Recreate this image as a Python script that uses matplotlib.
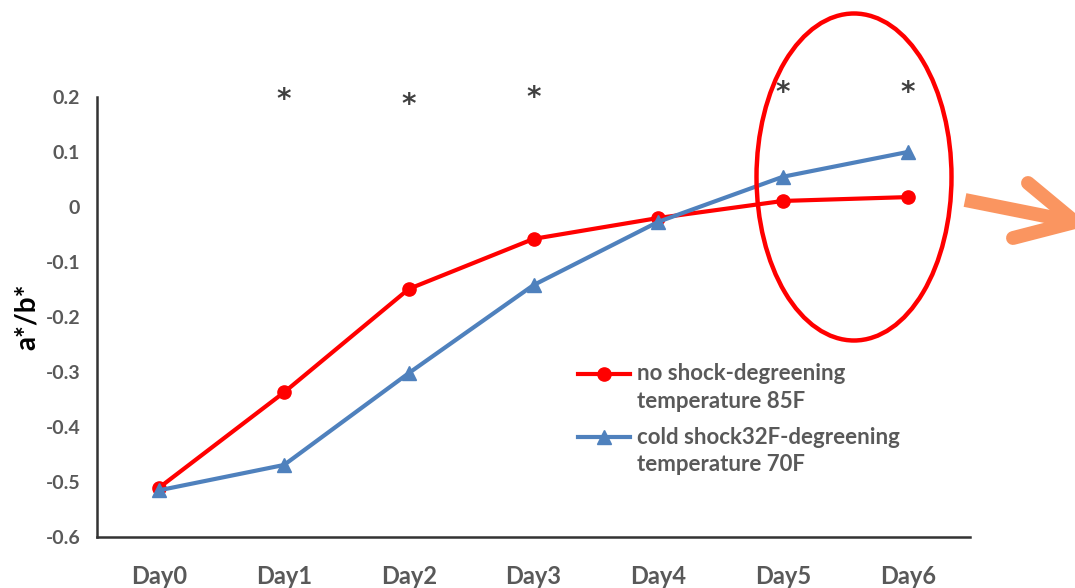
import numpy as np
import matplotlib
matplotlib.use('Agg')
import matplotlib.pyplot as plt
from matplotlib.patches import Ellipse
from matplotlib.lines import Line2D

plt.rcParams['font.family'] = ['Lato', 'DejaVu Sans']

days = ['Day0', 'Day1', 'Day2', 'Day3', 'Day4', 'Day5', 'Day6']
no_shock = [-0.51, -0.337, -0.149, -0.058, -0.02, 0.011, 0.018]
cold_shock = [-0.515, -0.469, -0.302, -0.142, -0.027, 0.055, 0.1]
star_days = [1, 2, 3, 5, 6]
star_y = [0.195, 0.186, 0.198, 0.207, 0.207]
yticks = [-0.6, -0.5, -0.4, -0.3, -0.2, -0.1, 0, 0.1, 0.2]
ytick_labels = ['-0.6', '-0.5', '-0.4', '-0.3', '-0.2', '-0.1', '0', '0.1', '0.2']
legend_labels = ['no shock-degreening\ntemperature 85F',
                 'cold shock32F-degreening\ntemperature 70F']

grey = '#595959'
red = '#FF0000'
blue = '#4F81BD'

fig = plt.figure(figsize=(10.75, 5.88), dpi=100)
ax = fig.add_axes([97 / 1075, 51 / 588, 873 / 1075, 440 / 588])

x = np.arange(len(days))
ax.plot(x, no_shock, color=red, lw=3, marker='o', ms=9.5)
ax.plot(x, cold_shock, color=blue, lw=3, marker='^', ms=9.5)

for d, yy in zip(star_days, star_y):
    ax.text(d, yy, '*', ha='center', va='center', fontsize=20, color='#404040',
            fontweight='bold', family='DejaVu Sans')

ax.set_xlim(-0.5, 6.5)
ax.set_ylim(-0.6, 0.2)
ax.set_xticks(x)
ax.set_xticklabels(days, fontsize=17, fontweight='bold', color=grey)
ax.set_yticks(yticks)
ax.set_yticklabels(ytick_labels, fontsize=14, fontweight='bold', color=grey)
ax.tick_params(length=0)
ax.tick_params(axis='x', pad=20)
ax.tick_params(axis='y', pad=12)
ax.set_ylabel('a*/b*', fontsize=20, fontweight='bold', color='black', labelpad=4)
for s in ['top', 'right']:
    ax.spines[s].set_visible(False)
for s in ['left', 'bottom']:
    ax.spines[s].set_linewidth(1.8)
    ax.spines[s].set_color('#333333')

# legend drawn by hand so the handle sits on the first text line
for (lbl, col, mk, hy) in zip(legend_labels, [red, blue], ['o', '^'], [0.371, 0.227]):
    ax.plot([0.551, 0.611], [hy, hy], transform=ax.transAxes, color=col, lw=3,
            clip_on=False)
    ax.plot([0.581], [hy], transform=ax.transAxes, color=col, marker=mk, ms=9.5,
            clip_on=False)
    ax.text(0.619, hy + 0.024, lbl, transform=ax.transAxes, ha='left', va='top',
            fontsize=16, fontweight='bold', color=grey, linespacing=1.4)

# red ellipse around Day5-Day6
fig.patches.append(Ellipse((854 / 1075, 1 - 177 / 588), 195 / 1075, 327 / 588,
                           transform=fig.transFigure, fill=False, ec=red, lw=3.2))

# orange arrow
orange = '#FA9560'
fig.lines.append(Line2D([965 / 1075, 1.0], [1 - 200 / 588, 1 - 222 / 588],
                        transform=fig.transFigure, color=orange, lw=10, solid_capstyle='butt'))
fig.lines.append(Line2D([1028 / 1075, 1.0], [1 - 183 / 588, 1 - 222 / 588],
                        transform=fig.transFigure, color=orange, lw=10, solid_capstyle='round'))
fig.lines.append(Line2D([1013 / 1075, 1.0], [1 - 238 / 588, 1 - 222 / 588],
                        transform=fig.transFigure, color=orange, lw=10, solid_capstyle='round'))

fig.savefig('out.png', dpi=100)
